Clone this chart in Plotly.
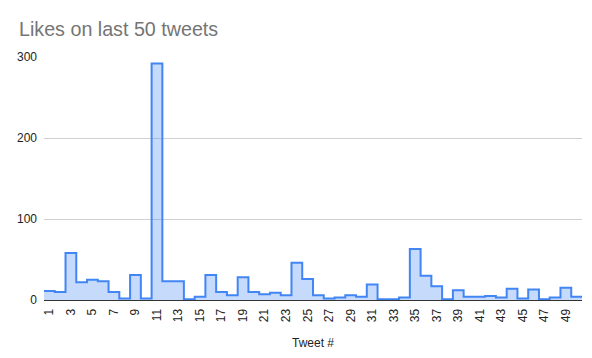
import plotly.graph_objects as go

tweets = list(range(1, 51))
likes = [11, 10, 58, 22, 25, 23, 10, 2, 31, 2,
         292, 23, 23, 1, 4, 31, 10, 6, 28, 10,
         7, 9, 6, 46, 26, 6, 2, 3, 6, 4,
         19, 1, 1, 3, 63, 30, 17, 1, 12, 4,
         4, 5, 3, 14, 2, 13, 1, 3, 15, 4]
tick_tweets = tweets[::2]
tick_labels = [str(t) for t in tick_tweets]
y_ticks = [0, 100, 200, 300]

# step edges: each tweet occupies a band centred on its category
edges = [t - 0.5 for t in tweets] + [tweets[-1] + 0.5]
step_vals = likes + [likes[-1]]

fig = go.Figure()
fig.add_trace(go.Scatter(
    x=edges, y=step_vals, mode="lines",
    line=dict(shape="hv", color="#4285f4", width=2),
    fill="tozeroy", fillcolor="rgba(66,133,244,0.3)",
    hoverinfo="skip", showlegend=False,
))

font = "Liberation Sans, Arial, sans-serif"
fig.update_layout(
    width=592, height=358,
    margin=dict(l=44, r=10, t=57, b=55),
    paper_bgcolor="white", plot_bgcolor="white",
    font=dict(family=font, size=12, color="#222222"),
    title=dict(text="Likes on last 50 tweets", x=19/592, xanchor="left",
               xref="container", yref="container", y=1 - 29/358, yanchor="middle",
               font=dict(family=font, size=19.7, color="#757575")),
    xaxis=dict(range=[0.5, 50.5], tickmode="array", tickvals=tick_tweets,
               ticktext=tick_labels, tickangle=-90, showgrid=False,
               showline=True, linecolor="#333333", linewidth=1,
               zeroline=False, ticks="", ticklabelstandoff=3,
               title=dict(text="Tweet #", font=dict(size=12, color="#222222"), standoff=17),
               tickfont=dict(size=12, color="#222222")),
    yaxis=dict(range=[0, 300], tickmode="array", tickvals=y_ticks,
               showgrid=True, gridcolor="#d0d0d0", gridwidth=1,
               zeroline=False, ticks="", ticklabelstandoff=6,
               tickfont=dict(size=12, color="#222222")),
)
fig.write_html("out.html")
